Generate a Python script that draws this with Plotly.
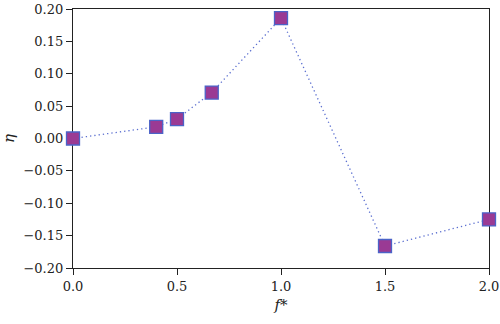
import plotly.graph_objects as go

# Frequency ratio f* and efficiency change eta
f_star = [0.0, 0.4, 0.5, 0.667, 1.0, 1.5, 2.0]
eta = [0.0, 0.018, 0.030, 0.071, 0.186, -0.166, -0.125]

x_ticks = [0.0, 0.5, 1.0, 1.5, 2.0]
y_ticks = [0.20, 0.15, 0.10, 0.05, 0.00, -0.05, -0.10, -0.15, -0.20]

font_family = "DejaVu Serif"

fig = go.Figure(
    go.Scatter(
        x=f_star,
        y=eta,
        mode="lines+markers",
        line=dict(color="#5b6fd0", width=1.3, dash="1.3px,3px"),
        marker=dict(symbol="square", size=13, color="#9a3a94",
                    line=dict(color="#4b63c8", width=1.3)),
        cliponaxis=False,
    )
)

axis_common = dict(
    showgrid=False,
    zeroline=False,
    showline=True,
    linecolor="#222222",
    linewidth=1.2,
    mirror=True,
    ticks="outside",
    ticklen=6,
    tickwidth=1.2,
    tickcolor="#222222",
    automargin=False,
    layer="below traces",
    tickfont=dict(family=font_family, size=13, color="#222222"),
)

fig.update_layout(
    width=500,
    height=324,
    margin=dict(l=73, r=11, t=9, b=56),
    paper_bgcolor="white",
    plot_bgcolor="white",
    showlegend=False,
    font=dict(family=font_family),
    xaxis=dict(
        range=[0, 2.0],
        tickvals=x_ticks,
        tickformat=".1f",
        title=dict(text="<i>f</i>*", font=dict(family=font_family, size=15, color="#222222"),
                   standoff=6),
        **axis_common,
    ),
    yaxis=dict(
        range=[-0.20, 0.20],
        tickvals=y_ticks,
        tickformat=".2f",
        title=dict(text="<i>η</i>", font=dict(family=font_family, size=15, color="#222222"),
                   standoff=8),
        **axis_common,
    ),
)

fig.write_html("out.html")
